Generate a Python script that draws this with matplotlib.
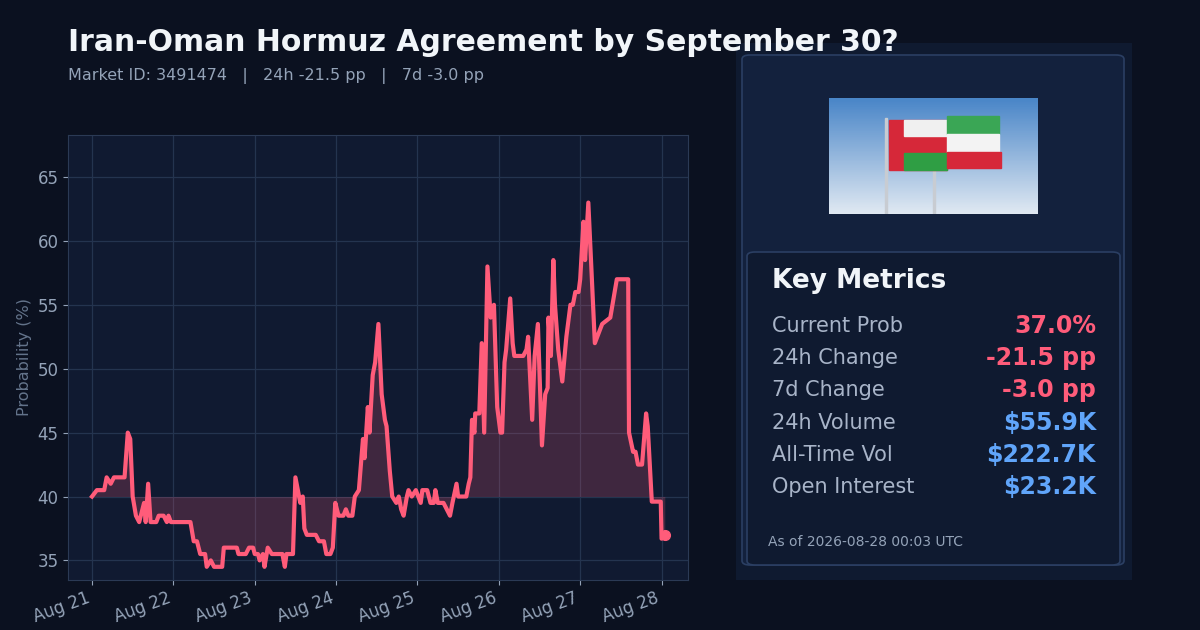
import matplotlib
matplotlib.use('Agg')
import matplotlib.pyplot as plt
from matplotlib.patches import FancyBboxPatch, Rectangle
import numpy as np

# days since Aug 21 00:00, probability (%)
days = [0.00, 0.06, 0.15, 0.18, 0.23, 0.27, 0.40, 0.44, 0.47, 0.50, 0.54, 0.58, 0.60, 0.64, 0.66,
        0.69, 0.72, 0.79, 0.82, 0.88, 0.92, 0.94, 0.97, 1.21, 1.25, 1.29, 1.33, 1.39, 1.41, 1.46,
        1.50, 1.60, 1.62, 1.78, 1.80, 1.89, 1.93, 1.98, 2.00, 2.04, 2.06, 2.10, 2.12, 2.16, 2.21,
        2.34, 2.37, 2.39, 2.42, 2.47, 2.50, 2.53, 2.56, 2.59, 2.61, 2.64, 2.75, 2.79, 2.85, 2.88,
        2.93, 2.96, 2.99, 3.03, 3.09, 3.12, 3.15, 3.20, 3.23, 3.28, 3.33, 3.35, 3.39, 3.41, 3.45,
        3.48, 3.52, 3.56, 3.60, 3.62, 3.66, 3.69, 3.74, 3.77, 3.80, 3.83, 3.87, 3.89, 3.93, 3.98,
        4.01, 4.04, 4.06, 4.12, 4.16, 4.20, 4.22, 4.25, 4.32, 4.36, 4.40, 4.43, 4.48, 4.50, 4.60,
        4.63, 4.65, 4.67, 4.70, 4.71, 4.76, 4.79, 4.82, 4.86, 4.90, 4.94, 4.98, 5.02, 5.04, 5.07,
        5.09, 5.14, 5.17, 5.19, 5.30, 5.34, 5.36, 5.41, 5.44, 5.48, 5.53, 5.57, 5.60, 5.61, 5.64,
        5.67, 5.69, 5.73, 5.78, 5.83, 5.88, 5.91, 5.94, 5.98, 6.00, 6.04, 6.06, 6.10, 6.18, 6.27,
        6.37, 6.45, 6.59, 6.60, 6.65, 6.68, 6.71, 6.76, 6.81, 6.83, 6.88, 6.91, 6.99, 7.00, 7.04]
prob = [40.0, 40.5, 40.5, 41.5, 41.0, 41.5, 41.5, 45.0, 44.5, 40.0, 38.5, 38.0, 38.5, 39.5, 38.0,
        41.0, 38.0, 38.0, 38.5, 38.5, 38.0, 38.5, 38.0, 38.0, 36.5, 36.5, 35.5, 35.5, 34.5, 35.0,
        34.5, 34.5, 36.0, 36.0, 35.5, 35.5, 36.0, 36.0, 35.5, 35.5, 35.0, 35.5, 34.5, 36.0, 35.5,
        35.5, 34.5, 35.5, 35.5, 35.5, 41.5, 40.5, 39.5, 40.0, 37.5, 37.0, 37.0, 36.5, 36.5, 35.5,
        35.5, 36.0, 39.5, 38.5, 38.5, 39.0, 38.5, 38.5, 40.0, 40.5, 44.5, 43.0, 47.0, 45.0, 49.5,
        50.5, 53.5, 48.0, 46.0, 45.5, 42.0, 40.0, 39.5, 40.0, 39.0, 38.5, 40.0, 40.5, 40.0, 40.5,
        40.0, 39.5, 40.5, 40.5, 39.5, 39.5, 40.5, 39.5, 39.5, 39.0, 38.5, 39.5, 41.0, 40.0, 40.0,
        41.0, 41.5, 46.0, 45.0, 46.5, 46.5, 52.0, 45.0, 58.0, 54.0, 55.0, 47.0, 45.0, 45.0, 50.5,
        51.5, 55.5, 52.0, 51.0, 51.0, 51.5, 52.5, 46.0, 51.0, 53.5, 44.0, 48.0, 48.5, 54.0, 51.0,
        58.5, 55.0, 51.5, 49.0, 52.5, 55.0, 55.0, 56.0, 56.0, 57.0, 61.5, 58.5, 63.0, 52.0, 53.5,
        54.0, 57.0, 57.0, 45.0, 43.5, 43.5, 42.5, 42.5, 46.5, 45.5, 39.6, 39.6, 39.6, 36.7, 37.0]
tick_labels = ['Aug 21', 'Aug 22', 'Aug 23', 'Aug 24', 'Aug 25', 'Aug 26', 'Aug 27', 'Aug 28']

metric_names = ['Current Prob', '24h Change', '7d Change', '24h Volume', 'All-Time Vol', 'Open Interest']
metric_values = ['37.0%', '-21.5 pp', '-3.0 pp', '$55.9K', '$222.7K', '$23.2K']
metric_colors = ['#ff5c7a', '#ff5c7a', '#ff5c7a', '#60a5fa', '#60a5fa', '#60a5fa']

BG = '#0b1120'
AX_BG = '#101a31'
LINE = '#ff5c7a'
GRID = '#24344f'
TXT = '#94a3b8'

fig = plt.figure(figsize=(12, 6.3), dpi=100, facecolor=BG)

fig.text(0.057, 0.933, 'Iran-Oman Hormuz Agreement by September 30?', color='#f1f5f9',
         fontsize=21.5, fontweight='bold', va='center')
fig.text(0.057, 0.879, 'Market ID: 3491474   |   24h -21.5 pp   |   7d -3.0 pp', color=TXT,
         fontsize=11.5, va='center')

ax = fig.add_axes([0.057, 0.08, 0.516, 0.706])
ax.set_facecolor(AX_BG)
d = np.array(days)
p = np.array(prob)
base = p[0]
ax.fill_between(d, p, base, color=LINE, alpha=0.2, lw=0)
ax.plot(d, p, color=LINE, lw=3)
ax.plot(d[-1], p[-1], 'o', color=LINE, ms=7)
ax.set_xlim(-0.29, 7.32)
ax.set_ylim(33.5, 68.3)
ax.set_xticks(range(8))
ax.set_xticklabels(tick_labels, rotation=20, ha='right')
ax.set_yticks([35, 40, 45, 50, 55, 60, 65])
ax.grid(color=GRID, lw=0.9)
ax.set_axisbelow(True)
ax.tick_params(colors=TXT, labelsize=12)
for s in ax.spines.values():
    s.set_color('#2b3a55')
ax.set_ylabel('Probability (%)', color='#64748b', fontsize=11.5)

# right panel
W, H = 1200, 630
def box(x0, y0, x1, y1, fc, ec, r=0, lw=1.0):
    p = FancyBboxPatch((x0 / W, 1 - y1 / H), (x1 - x0) / W, (y1 - y0) / H,
                       boxstyle='round,pad=0,rounding_size=%f' % (r / W), transform=fig.transFigure,
                       fc=fc, ec=ec, lw=lw)
    fig.patches.append(p)

box(736, 43, 1132, 580, '#0f1a30', 'none')
box(742, 55, 1124, 565, '#13213d', '#2b3f63', r=8, lw=1.2)
box(747, 252, 1120, 565, '#0f1a30', '#2b3f63', r=8, lw=1.2)

# flag picture
fax = fig.add_axes([829 / W, 1 - 214 / H, 209 / W, 116 / H], zorder=5)
fax.set_xlim(0, 209); fax.set_ylim(116, 0); fax.axis('off')
sky = np.linspace(0, 1, 50)[:, None] * np.ones((1, 10))
fax.imshow(sky, cmap=matplotlib.colors.LinearSegmentedColormap.from_list('s', ['#4a86c8', '#dfe8f2']),
           extent=(0, 209, 116, 0), aspect='auto')
fax.add_patch(Rectangle((56, 20), 2, 96, color='#c8ccd2'))
fax.add_patch(Rectangle((104, 28), 2, 88, color='#c8ccd2'))
fax.add_patch(Rectangle((60, 22), 58, 50, color='#d62839'))
fax.add_patch(Rectangle((75, 22), 43, 16, color='#f0f0f0'))
fax.add_patch(Rectangle((75, 55), 43, 17, color='#2f9e44'))
fax.add_patch(Rectangle((118, 18), 52, 18, color='#3aa655'))
fax.add_patch(Rectangle((118, 36), 52, 18, color='#f3f3f3'))
fax.add_patch(Rectangle((118, 54), 54, 16, color='#d62839'))

fig.text(772 / W, 1 - 281 / H, 'Key Metrics', color='#f1f5f9', fontsize=19, fontweight='bold', va='center')
for i, (n, v, c) in enumerate(zip(metric_names, metric_values, metric_colors)):
    y = 1 - (326 + 32.2 * i) / H
    fig.text(772 / W, y, n, color='#a8b4c8', fontsize=15, va='center')
    fig.text(1096 / W, y, v, color=c, fontsize=17, fontweight='bold', va='center', ha='right')
fig.text(768 / W, 1 - 542 / H, 'As of 2026-08-28 00:03 UTC', color=TXT, fontsize=10, va='center')

fig.savefig('out.png', dpi=100, facecolor=BG)
